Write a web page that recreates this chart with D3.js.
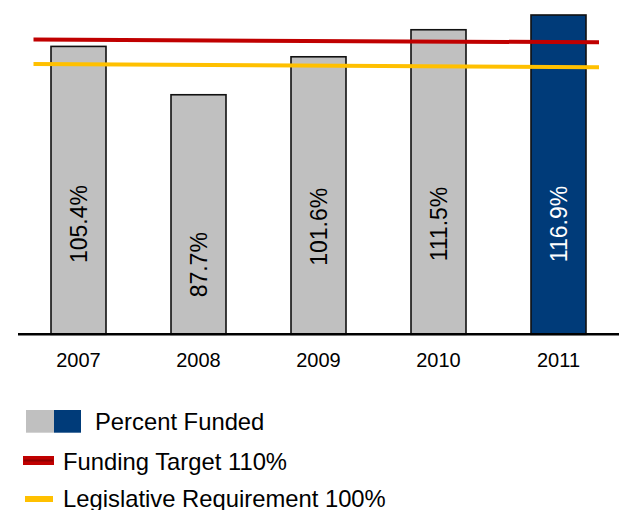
<!DOCTYPE html>
<html>
<head>
<meta charset="utf-8">
<script src="https://cdn.jsdelivr.net/npm/d3@7"></script>
<style>
  body { margin: 0; background: #fff; }
  svg { display: block; font-family: "Liberation Sans", Arial, sans-serif; }
</style>
</head>
<body>
<div id="chart"></div>
<script>
// chart data
var years = ["2007", "2008", "2009", "2010", "2011"];
var funded = [105.4, 87.7, 101.6, 111.5, 116.9];
var barLabels = ["105.4%", "87.7%", "101.6%", "111.5%", "116.9%"];
// reference lines, value at left end and right end (as drawn)
var targetLine = [107.9, 106.9];
var requirementLine = [99.0, 97.8];
var legendText = ["Percent Funded", "Funding Target 110%", "Legislative Requirement 100%"];

var width = 623, height = 510;
var baseline = 334.3;

var svg = d3.select("#chart").append("svg")
    .attr("width", width)
    .attr("height", height);

var x = d3.scaleBand()
    .domain(years)
    .range([18.5, 618.5])
    .paddingInner(0.5417)
    .paddingOuter(0.27085);

var y = d3.scaleLinear()
    .domain([0, 116.9])
    .range([baseline, 15]);

// bars
svg.selectAll("rect.bar")
  .data(funded)
  .enter()
  .append("rect")
    .attr("class", "bar")
    .attr("x", function(d, i) { return x(years[i]); })
    .attr("y", function(d) { return y(d); })
    .attr("width", x.bandwidth())
    .attr("height", function(d) { return baseline - y(d); })
    .style("fill", function(d, i) { return i == years.length - 1 ? "#003b79" : "#c0c0c0"; })
    .style("stroke", "#111")
    .style("stroke-width", 1.6);

// rotated value labels
svg.selectAll("text.val")
  .data(funded)
  .enter()
  .append("text")
    .attr("class", "val")
    .attr("transform", function(d, i) {
        var cx = x(years[i]) + x.bandwidth() / 2 + 8.5;
        var cy = Math.max(224, y(d) + 170);
        return "translate(" + cx + "," + cy + ") rotate(-90)";
    })
    .attr("text-anchor", "middle")
    .style("font-size", "23px")
    .style("fill", function(d, i) { return i == years.length - 1 ? "#fff" : "#000"; })
    .text(function(d, i) { return barLabels[i]; });

// reference lines
var lx = d3.scaleLinear().domain([0, 1]).range([x.range()[0] + 15, x.range()[1] - 19.5]);
var line = d3.line()
    .x(function(d, i) { return lx(i); })
    .y(function(d) { return y(d); });

svg.append("path")
    .attr("d", line(targetLine))
    .style("fill", "none")
    .style("stroke", "#c00000")
    .style("stroke-width", 4);

svg.append("path")
    .attr("d", line(requirementLine))
    .style("fill", "none")
    .style("stroke", "#ffc000")
    .style("stroke-width", 4);

// x axis
var xAxis = svg.append("g")
    .attr("transform", "translate(0," + baseline + ")")
    .call(d3.axisBottom(x).tickSize(0).tickPadding(0));

xAxis.select(".domain")
    .attr("d", "M18,0H619")
    .style("stroke", "#000")
    .style("stroke-width", 2.5);

xAxis.selectAll("text")
    .attr("dy", null)
    .attr("y", 32.4)
    .style("font-family", "'Liberation Sans', Arial, sans-serif")
    .style("font-size", "20px")
    .style("fill", "#000");

// legend
var legend = svg.append("g");

legend.append("rect")
    .attr("x", 26).attr("y", 410)
    .attr("width", 28).attr("height", 22.7)
    .style("fill", "#c0c0c0");
legend.append("rect")
    .attr("x", 54).attr("y", 410)
    .attr("width", 27).attr("height", 22.7)
    .style("fill", "#003b79");

legend.append("rect")
    .attr("x", 23).attr("y", 456)
    .attr("width", 31).attr("height", 9)
    .style("fill", "#c00000");
legend.append("line")
    .attr("x1", 24).attr("x2", 53)
    .attr("y1", 460.5).attr("y2", 460.5)
    .style("stroke", "#8e0000")
    .style("stroke-width", 2);

legend.append("rect")
    .attr("x", 25).attr("y", 496)
    .attr("width", 28).attr("height", 6)
    .style("fill", "#ffc000");

var legendY = [430, 470, 507];
var legendX = [95, 63, 63];
legend.selectAll("text")
  .data(legendText)
  .enter()
  .append("text")
    .attr("x", function(d, i) { return legendX[i]; })
    .attr("y", function(d, i) { return legendY[i]; })
    .style("font-size", "23.8px")
    .style("fill", "#000")
    .text(function(d) { return d; });
</script>
</body>
</html>
